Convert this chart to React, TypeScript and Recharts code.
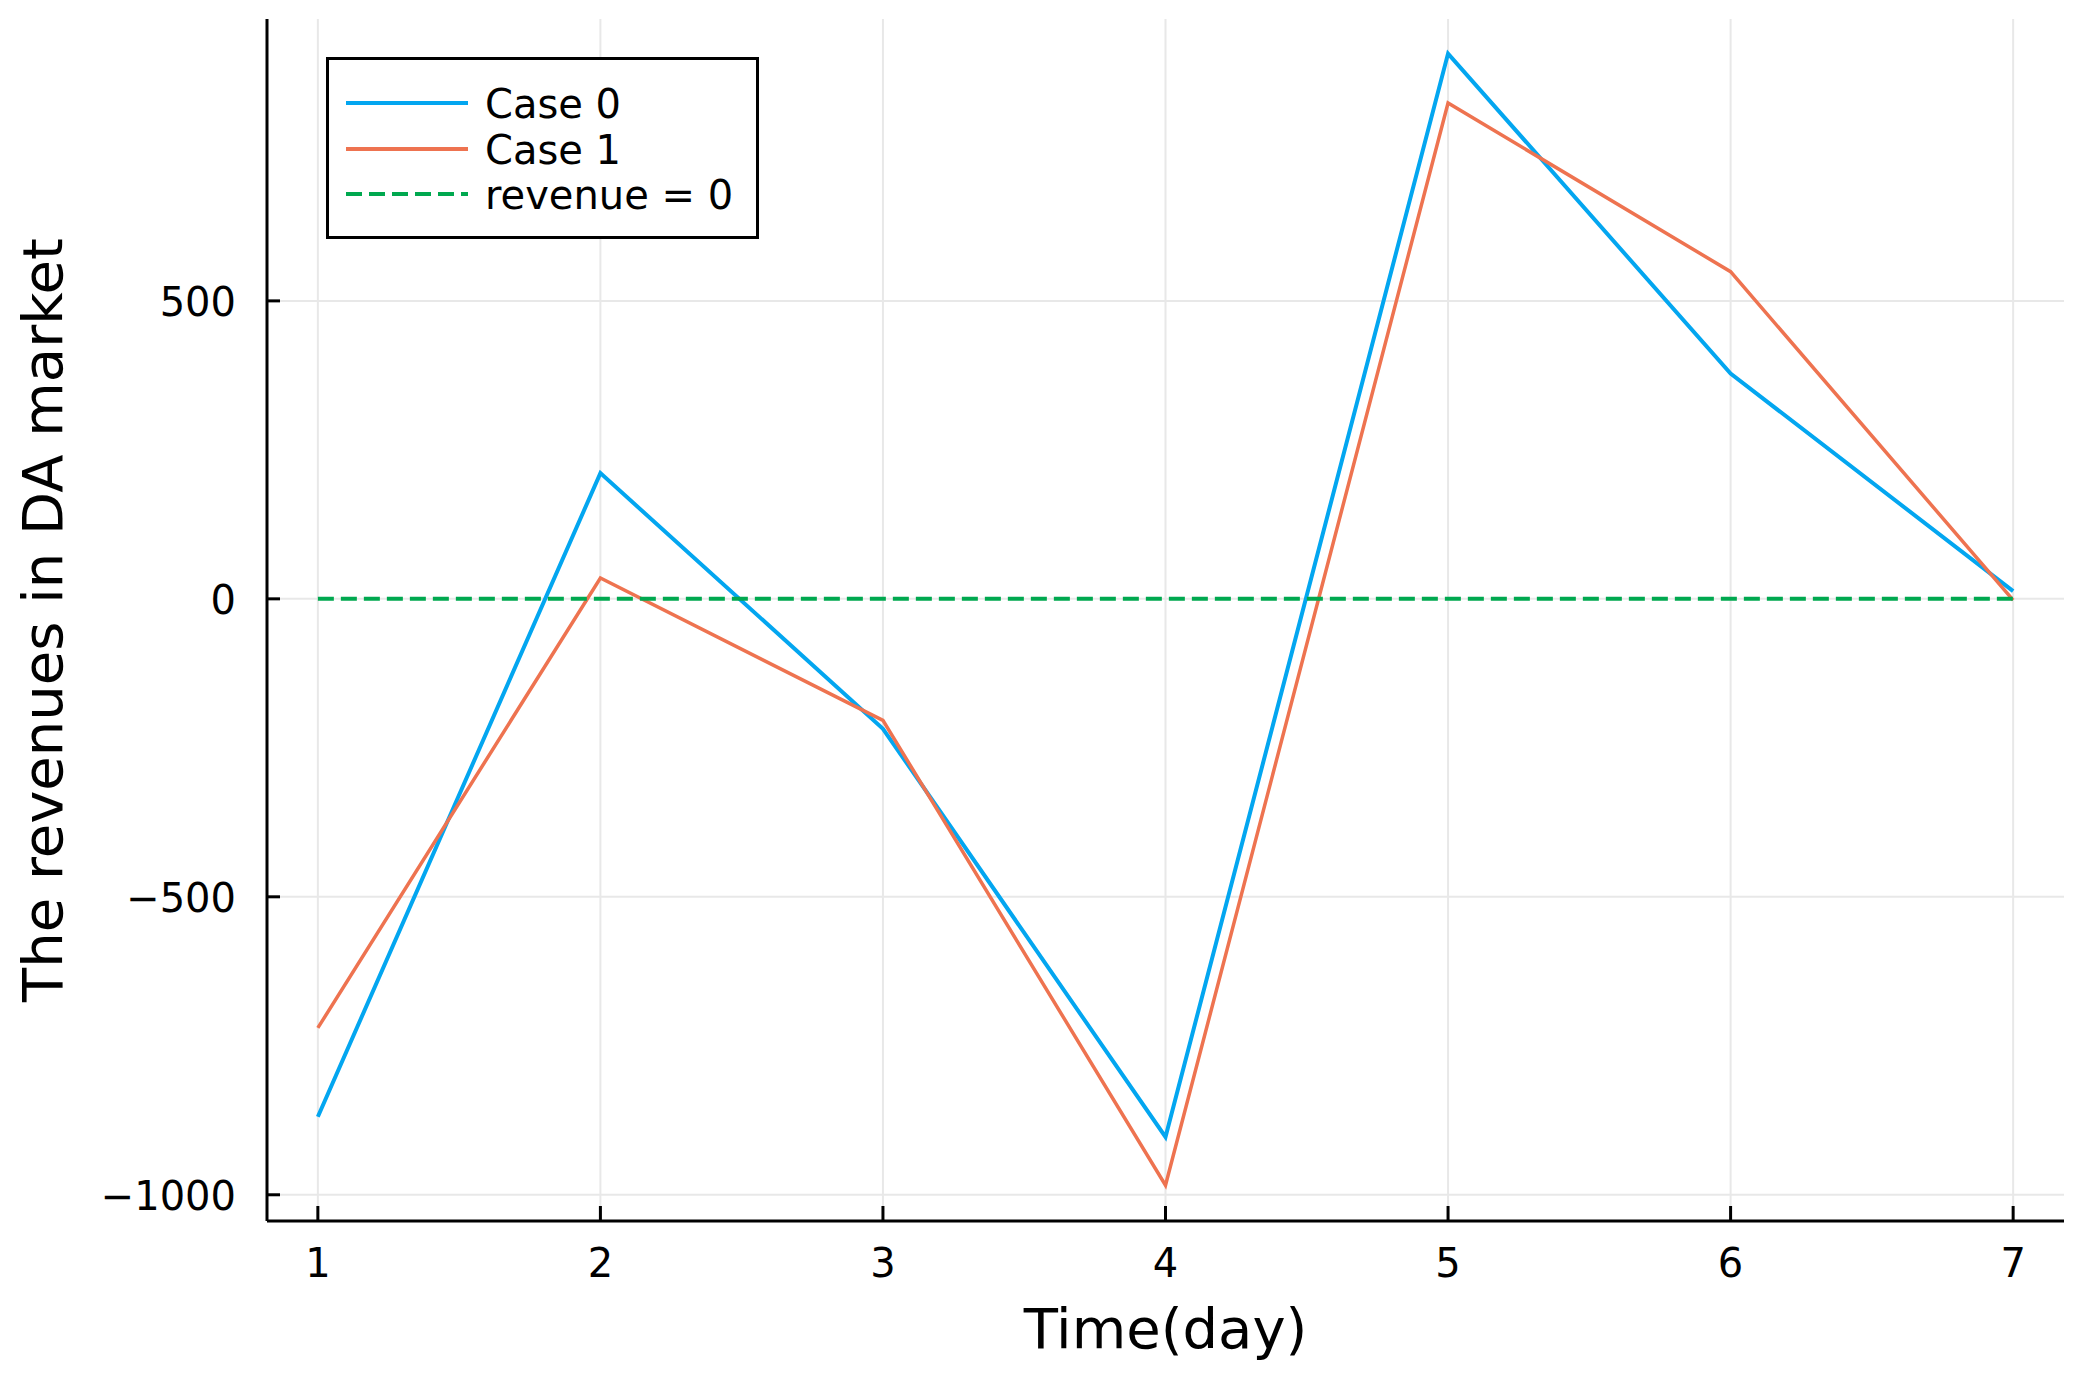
import React from 'react';
import { LineChart, Line, XAxis, YAxis, CartesianGrid, Legend, Label } from 'recharts';

// values
const days = [1, 2, 3, 4, 5, 6, 7];
const case0 = [-869, 211, -218, -903, 915, 378, 13];
const case1 = [-720, 35, -204, -984, 832, 549, -2];
const zeroRevenue = [0, 0, 0, 0, 0, 0, 0];

const xTicks = [1, 2, 3, 4, 5, 6, 7];
const yTicks = [-1000, -500, 0, 500];

const FONT = '"DejaVu Sans", sans-serif';
const BLUE = '#03A6F0';
const ORANGE = '#EE7350';
const GREEN = '#00A84F';

const data = days.map((d, i) => ({
    day: d,
    case0: case0[i],
    case1: case1[i],
    zero: zeroRevenue[i],
}));

const XTick = (props: any) => {
    const { x, y, payload } = props;
    return (
        <g>
            <line x1={x} x2={x} y1={y} y2={y - 15} stroke="#000" strokeWidth={3} />
            <text x={x} y={y + 56} textAnchor="middle" fontSize={40} fontFamily={FONT} fill="#000">
                {payload.value}
            </text>
        </g>
    );
};

const YTick = (props: any) => {
    const { x, y, payload } = props;
    const label = payload.value < 0 ? '\u2212' + Math.abs(payload.value) : String(payload.value);
    return (
        <g>
            <line x1={x} x2={x + 13} y1={y} y2={y} stroke="#000" strokeWidth={3} />
            <text x={x - 31} y={y + 15} textAnchor="end" fontSize={40} fontFamily={FONT} fill="#000">
                {label}
            </text>
        </g>
    );
};

const LegendBox = (props: any) => {
    const { payload } = props;
    const rows = [46, 92, 137];
    return (
        <svg width={433} height={182} style={{ display: 'block' }}>
            <rect x={1.5} y={1.5} width={430} height={179} fill="#fff" stroke="#000" strokeWidth={3} />
            {(payload || []).map((entry: any, i: number) => (
                <g key={entry.value}>
                    <line
                        x1={20}
                        x2={142}
                        y1={rows[i]}
                        y2={rows[i]}
                        stroke={entry.color}
                        strokeWidth={4}
                        strokeDasharray={entry.payload?.strokeDasharray}
                    />
                    <text x={159} y={rows[i] + 15} fontSize={40} fontFamily={FONT} fill="#000">
                        {entry.value}
                    </text>
                </g>
            ))}
        </svg>
    );
};

export default function App() {
    return (
        <div style={{ position: 'absolute', left: 0, top: 0, width: 2081, height: 1380, background: '#fff' }}>
            <style>{'body{margin:0}'}</style>
            <LineChart width={2081} height={1380} data={data} margin={{ top: 19, right: 17, bottom: 0, left: 0 }}>
                <CartesianGrid stroke="#e8e8e8" strokeWidth={2} syncWithTicks />
                <XAxis
                    type="number"
                    dataKey="day"
                    domain={[0.82, 7.18]}
                    ticks={xTicks}
                    height={159}
                    tickSize={0}
                    tickMargin={0}
                    tickLine={false}
                    axisLine={{ stroke: '#000', strokeWidth: 3 }}
                    tick={<XTick />}
                    allowDataOverflow
                >
                    <Label
                        content={(p: any) => {
                            const vb = p.viewBox;
                            return (
                                <text
                                    x={vb.x + vb.width / 2}
                                    y={1348}
                                    textAnchor="middle"
                                    fontSize={56}
                                    fontFamily={FONT}
                                    fill="#000"
                                >
                                    Time(day)
                                </text>
                            );
                        }}
                    />
                </XAxis>
                <YAxis
                    type="number"
                    domain={[-1044, 973]}
                    ticks={yTicks}
                    width={267}
                    tickSize={0}
                    tickMargin={0}
                    tickLine={false}
                    axisLine={{ stroke: '#000', strokeWidth: 3 }}
                    tick={<YTick />}
                    allowDataOverflow
                >
                    <Label
                        content={(p: any) => {
                            const vb = p.viewBox;
                            const cy = vb.y + vb.height / 2;
                            return (
                                <text
                                    x={62}
                                    y={cy}
                                    transform={`rotate(-90 62 ${cy})`}
                                    textAnchor="middle"
                                    fontSize={56}
                                    fontFamily={FONT}
                                    fill="#000"
                                >
                                    The revenues in DA market
                                </text>
                            );
                        }}
                    />
                </YAxis>
                <Legend
                    layout="horizontal"
                    verticalAlign="middle"
                    align="center"
                    content={<LegendBox />}
                    wrapperStyle={{ position: 'absolute', left: 326, top: 57, width: 433, height: 182 }}
                />
                <Line
                    type="linear"
                    dataKey="case0"
                    name="Case 0"
                    stroke={BLUE}
                    strokeWidth={4}
                    dot={false}
                    activeDot={false}
                    isAnimationActive={false}
                />
                <Line
                    type="linear"
                    dataKey="case1"
                    name="Case 1"
                    stroke={ORANGE}
                    strokeWidth={3.5}
                    dot={false}
                    activeDot={false}
                    isAnimationActive={false}
                />
                <Line
                    type="linear"
                    dataKey="zero"
                    name="revenue = 0"
                    stroke={GREEN}
                    strokeWidth={4}
                    strokeDasharray="16 7"
                    dot={false}
                    activeDot={false}
                    isAnimationActive={false}
                />
            </LineChart>
        </div>
    );
}
